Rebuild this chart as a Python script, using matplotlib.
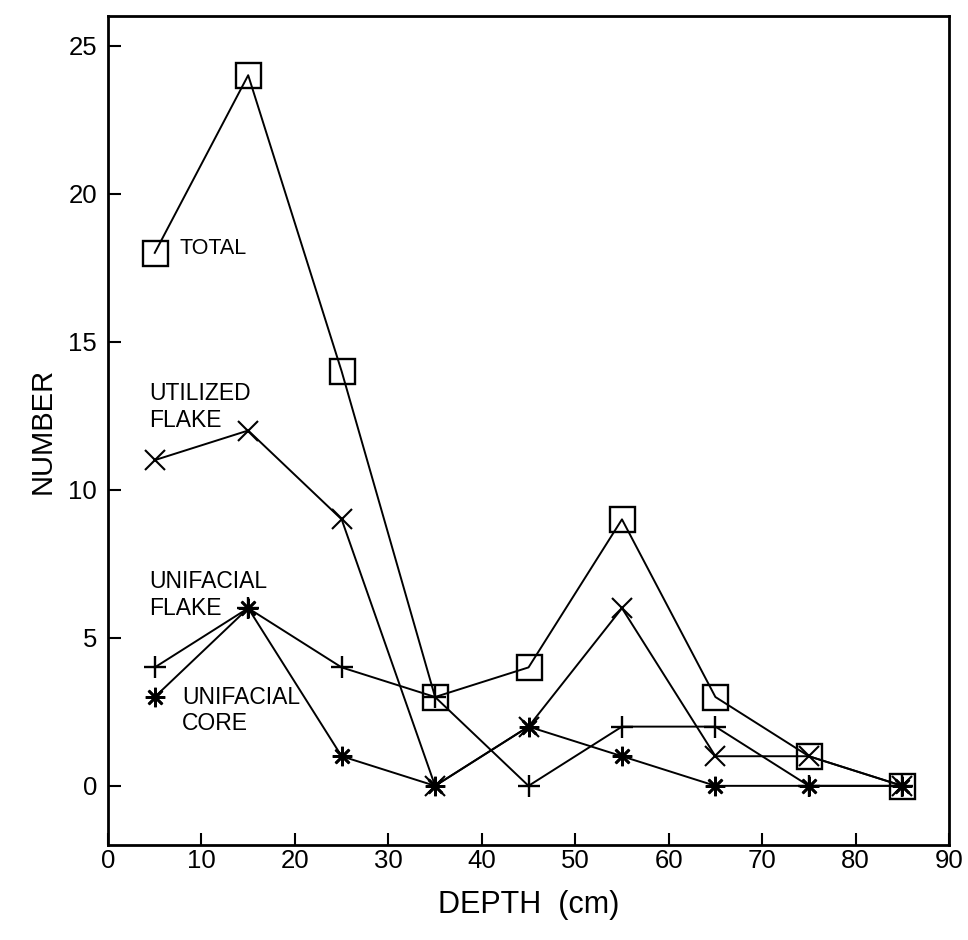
import matplotlib
matplotlib.use("Agg")
import matplotlib.pyplot as plt

plt.rcParams['font.family'] = ['Liberation Sans', 'DejaVu Sans']

# depth midpoints (cm) and counts per level
depth = [5, 15, 25, 35, 45, 55, 65, 75, 85]
total = [18, 24, 14, 3, 4, 9, 3, 1, 0]
utilized_flake = [11, 12, 9, 0, 2, 6, 1, 1, 0]
unifacial_flake = [4, 6, 4, 3, 0, 2, 2, 0, 0]
unifacial_core = [3, 6, 1, 0, 2, 1, 0, 0, 0]

x_ticks = [0, 10, 20, 30, 40, 50, 60, 70, 80, 90]
y_ticks = [0, 5, 10, 15, 20, 25]

fig = plt.figure(figsize=(9.68, 9.40), dpi=100)
ax = fig.add_axes([0.1116, 0.101, 0.8688, 0.882])

lw = 1.4
ax.plot(depth, total, color='black', lw=lw, marker='s', markersize=18,
        markerfacecolor='none', markeredgewidth=1.7)
ax.plot(depth, utilized_flake, color='black', lw=lw, marker='x', markersize=14,
        markeredgewidth=1.5)
ax.plot(depth, unifacial_flake, color='black', lw=lw, marker='+', markersize=16,
        markeredgewidth=1.7)
ax.plot(depth, unifacial_core, color='black', lw=lw, marker=(8, 2, 0), markersize=14,
        markeredgewidth=1.9)

# series labels
lab = dict(fontsize=16.5, va='center', ha='left', linespacing=1.2)
ax.text(7.7, 18.15, 'TOTAL', fontsize=15.5, va='center', ha='left')
ax.text(4.4, 12.8, 'UTILIZED\nFLAKE', **lab)
ax.text(4.4, 6.45, 'UNIFACIAL\nFLAKE', **lab)
ax.text(7.9, 2.55, 'UNIFACIAL\nCORE', **lab)

ax.set_xlim(0, 90)
ax.set_ylim(-2, 26)
ax.set_xticks(x_ticks)
ax.set_yticks(y_ticks)
ax.tick_params(direction='in', length=9, width=1.5, labelsize=18.5,
               top=False, right=False)
ax.tick_params(axis='x', pad=3)
ax.tick_params(axis='y', pad=8)
for s in ax.spines.values():
    s.set_linewidth(2)

ax.set_xlabel('DEPTH  (cm)', fontsize=22, labelpad=12)
ax.set_ylabel('NUMBER', fontsize=21, labelpad=8)

fig.savefig('out.png', dpi=100)
